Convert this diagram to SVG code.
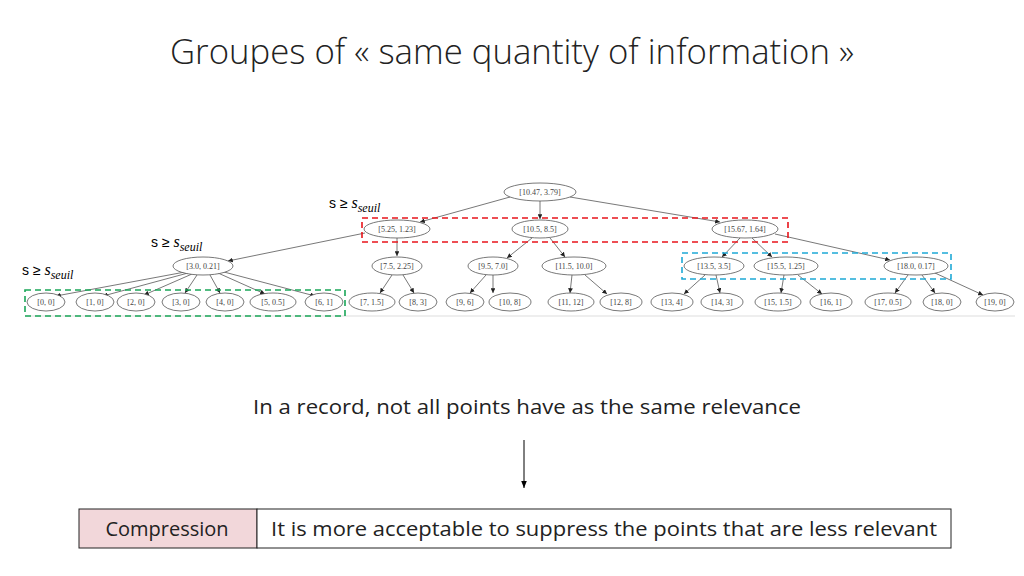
<svg xmlns="http://www.w3.org/2000/svg" width="1024" height="576" viewBox="0 0 1024 576">
<defs>
<style>
.n ellipse{fill:#fff;stroke:#555;stroke-width:0.8}
.n text{font-family:"Liberation Serif",serif;font-size:8px;fill:#444;text-anchor:middle}
.e line{stroke:#555;stroke-width:0.8;marker-end:url(#a)}
.lab{font-family:"Liberation Sans",sans-serif;font-size:14px;fill:#000}
.big{font-family:"Open Sans","Liberation Sans",sans-serif;fill:#222}
</style>
<marker id="a" viewBox="0 0 10 10" refX="10" refY="5" markerWidth="6" markerHeight="6" orient="auto"><path d="M0,0L10,5L0,10z" fill="#222"/></marker>
<marker id="b" viewBox="0 0 10 10" refX="10" refY="5" markerWidth="7" markerHeight="7" orient="auto"><path d="M0,1L10,5L0,9z" fill="#000"/></marker>
</defs>
<rect width="1024" height="576" fill="#fff"/>
<text class="big" x="512" y="64" font-size="34" text-anchor="middle" textLength="684" lengthAdjust="spacingAndGlyphs" font-weight="300">Groupes of « same quantity of information »</text>
<line x1="25" y1="316" x2="1015" y2="316" stroke="#ddd" stroke-width="1"/>
<g class="e">
<line x1="510" y1="197" x2="420" y2="222"/><line x1="540" y1="201" x2="540" y2="219"/><line x1="570" y1="197" x2="720" y2="222"/>
<line x1="365" y1="233" x2="228" y2="261"/><line x1="397" y1="238" x2="397" y2="256"/>
<line x1="532" y1="238" x2="507" y2="258"/><line x1="550" y1="238" x2="565" y2="257"/>
<line x1="740" y1="238" x2="722" y2="257"/><line x1="752" y1="238" x2="772" y2="257"/><line x1="775" y1="234" x2="890" y2="260"/>
<line x1="185" y1="272" x2="56" y2="296"/><line x1="188" y1="273" x2="103" y2="296"/><line x1="192" y1="274" x2="144" y2="295"/><line x1="197" y1="275" x2="185" y2="293"/><line x1="210" y1="275" x2="220" y2="293"/><line x1="218" y1="273" x2="265" y2="294"/><line x1="224" y1="272" x2="315" y2="296"/>
<line x1="392" y1="275" x2="380" y2="293"/><line x1="403" y1="275" x2="414" y2="293"/>
<line x1="486" y1="275" x2="470" y2="293"/><line x1="493" y1="275" x2="493" y2="293"/>
<line x1="572" y1="275" x2="570" y2="293"/><line x1="585" y1="275" x2="607" y2="294"/>
<line x1="705" y1="275" x2="684" y2="294"/><line x1="716" y1="275" x2="720" y2="293"/>
<line x1="784" y1="275" x2="781" y2="293"/><line x1="798" y1="275" x2="822" y2="294"/>
<line x1="908" y1="275" x2="895" y2="293"/><line x1="922" y1="275" x2="935" y2="293"/><line x1="935" y1="273" x2="983" y2="295"/>
</g>
<g id="n0" class="n"><ellipse cx="540" cy="192" rx="36" ry="9"/><text x="540" y="195">[10.47, 3.79]</text></g>
<g id="n1" class="n"><ellipse cx="397" cy="229" rx="33" ry="9"/><text x="397" y="232">[5.25, 1.23]</text></g>
<g id="n2" class="n"><ellipse cx="540" cy="229" rx="28" ry="9"/><text x="540" y="232">[10.5, 8.5]</text></g>
<g id="n3" class="n"><ellipse cx="745" cy="229" rx="33" ry="9"/><text x="745" y="232">[15.67, 1.64]</text></g>
<g id="n4" class="n"><ellipse cx="203" cy="266" rx="30" ry="9"/><text x="203" y="269">[3.0, 0.21]</text></g>
<g id="n5" class="n"><ellipse cx="397" cy="266" rx="25" ry="9"/><text x="397" y="269">[7.5, 2.25]</text></g>
<g id="n6" class="n"><ellipse cx="493" cy="266" rx="25" ry="9"/><text x="493" y="269">[9.5, 7.0]</text></g>
<g id="n7" class="n"><ellipse cx="574" cy="266" rx="32" ry="9"/><text x="574" y="269">[11.5, 10.0]</text></g>
<g id="n8" class="n"><ellipse cx="714" cy="266" rx="30" ry="9"/><text x="714" y="269">[13.5, 3.5]</text></g>
<g id="n9" class="n"><ellipse cx="786" cy="266" rx="32" ry="9"/><text x="786" y="269">[15.5, 1.25]</text></g>
<g id="n10" class="n"><ellipse cx="916" cy="266" rx="32" ry="9"/><text x="916" y="269">[18.0, 0.17]</text></g>
<g id="l0" class="n"><ellipse cx="46" cy="302" rx="19" ry="9"/><text x="46" y="305">[0, 0]</text></g>
<g id="l1" class="n"><ellipse cx="95" cy="302" rx="19" ry="9"/><text x="95" y="305">[1, 0]</text></g>
<g id="l2" class="n"><ellipse cx="136" cy="302" rx="19" ry="9"/><text x="136" y="305">[2, 0]</text></g>
<g id="l3" class="n"><ellipse cx="181" cy="302" rx="19" ry="9"/><text x="181" y="305">[3, 0]</text></g>
<g id="l4" class="n"><ellipse cx="225" cy="302" rx="19" ry="9"/><text x="225" y="305">[4, 0]</text></g>
<g id="l5" class="n"><ellipse cx="273" cy="302" rx="23" ry="9"/><text x="273" y="305">[5, 0.5]</text></g>
<g id="l6" class="n"><ellipse cx="324" cy="302" rx="19" ry="9"/><text x="324" y="305">[6, 1]</text></g>
<g id="l7" class="n"><ellipse cx="372" cy="302" rx="23" ry="9"/><text x="372" y="305">[7, 1.5]</text></g>
<g id="l8" class="n"><ellipse cx="418" cy="302" rx="19" ry="9"/><text x="418" y="305">[8, 3]</text></g>
<g id="l9" class="n"><ellipse cx="465" cy="302" rx="19" ry="9"/><text x="465" y="305">[9, 6]</text></g>
<g id="l10" class="n"><ellipse cx="510" cy="302" rx="21" ry="9"/><text x="510" y="305">[10, 8]</text></g>
<g id="l11" class="n"><ellipse cx="571" cy="302" rx="23" ry="9"/><text x="571" y="305">[11, 12]</text></g>
<g id="l12" class="n"><ellipse cx="621" cy="302" rx="21" ry="9"/><text x="621" y="305">[12, 8]</text></g>
<g id="l13" class="n"><ellipse cx="672" cy="302" rx="21" ry="9"/><text x="672" y="305">[13, 4]</text></g>
<g id="l14" class="n"><ellipse cx="722" cy="302" rx="21" ry="9"/><text x="722" y="305">[14, 3]</text></g>
<g id="l15" class="n"><ellipse cx="778" cy="302" rx="23" ry="9"/><text x="778" y="305">[15, 1.5]</text></g>
<g id="l16" class="n"><ellipse cx="831" cy="302" rx="21" ry="9"/><text x="831" y="305">[16, 1]</text></g>
<g id="l17" class="n"><ellipse cx="888" cy="302" rx="23" ry="9"/><text x="888" y="305">[17, 0.5]</text></g>
<g id="l18" class="n"><ellipse cx="942" cy="302" rx="19" ry="9"/><text x="942" y="305">[18, 0]</text></g>
<g id="l19" class="n"><ellipse cx="995" cy="302" rx="19" ry="9"/><text x="995" y="305">[19, 0]</text></g>
<rect x="362" y="218" width="426" height="24" fill="none" stroke="#e8141b" stroke-width="1.6" stroke-dasharray="6,4"/>
<rect x="682" y="253" width="269" height="26" fill="none" stroke="#1ea9d6" stroke-width="1.6" stroke-dasharray="6,4"/>
<rect x="25" y="290" width="320" height="26" fill="none" stroke="#1aa658" stroke-width="1.6" stroke-dasharray="6,4"/>
<text class="lab" x="329" y="208">s ≥ <tspan font-family="Liberation Serif,serif" font-style="italic" font-size="16">s</tspan><tspan font-family="Liberation Serif,serif" font-style="italic" font-size="12" dy="4">seuil</tspan></text>
<text class="lab" x="151" y="247">s ≥ <tspan font-family="Liberation Serif,serif" font-style="italic" font-size="16">s</tspan><tspan font-family="Liberation Serif,serif" font-style="italic" font-size="12" dy="4">seuil</tspan></text>
<text class="lab" x="22" y="275">s ≥ <tspan font-family="Liberation Serif,serif" font-style="italic" font-size="16">s</tspan><tspan font-family="Liberation Serif,serif" font-style="italic" font-size="12" dy="4">seuil</tspan></text>
<text class="big" x="527" y="414" font-size="20" text-anchor="middle" textLength="548" lengthAdjust="spacingAndGlyphs">In a record, not all points have as the same relevance</text>
<line x1="524" y1="440" x2="524" y2="488" stroke="#000" stroke-width="1" marker-end="url(#b)"/>
<rect x="79" y="509" width="178" height="39" fill="#f2d7da" stroke="#222" stroke-width="1"/>
<rect x="257" y="509" width="694" height="39" fill="#fff" stroke="#222" stroke-width="1"/>
<text class="big" x="167" y="536" font-size="20" text-anchor="middle">Compression</text>
<text class="big" x="604" y="536" font-size="20" text-anchor="middle" textLength="666" lengthAdjust="spacingAndGlyphs">It is more acceptable to suppress the points that are less relevant</text>
</svg>
